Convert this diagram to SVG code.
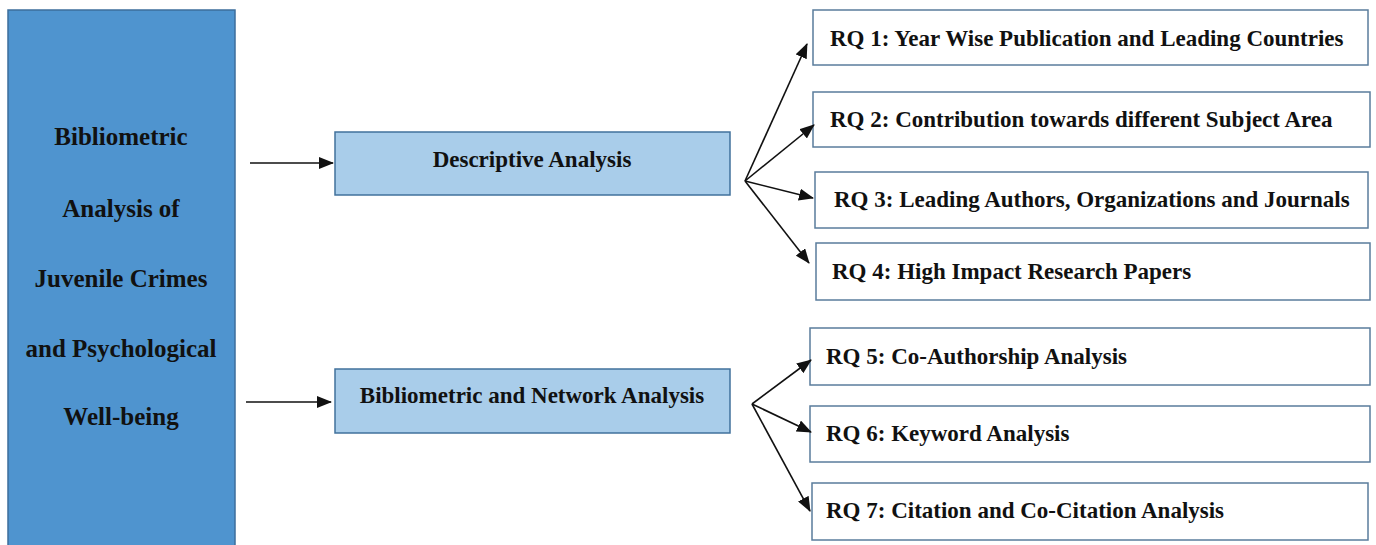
<svg xmlns="http://www.w3.org/2000/svg" width="1376" height="545" viewBox="0 0 1376 545">
<style>
text{font-family:"Liberation Serif","Times New Roman",serif;font-weight:bold;fill:#111;}
.big{font-size:25px;text-anchor:middle;}
.mid{font-size:23px;text-anchor:middle;}
.rq{font-size:23px;}
.main{fill:#4F94CF;stroke:#3D6E9C;stroke-width:1.5;}
.cat{fill:#A9CDEA;stroke:#41719C;stroke-width:1.5;}
.box{fill:#fff;stroke:#5A7C9C;stroke-width:1.5;}
.conn line{stroke:#111;stroke-width:1.6;fill:none;}
</style>
<defs>
<marker id="ah" markerUnits="userSpaceOnUse" markerWidth="15" markerHeight="12" refX="14" refY="6" orient="auto">
<path d="M0,0 L15,6 L0,12 Z" fill="#111"/>
</marker>
</defs>
<rect width="1376" height="545" fill="#fff"/>
<g id="main">
<rect class="main" x="8" y="10" width="227" height="545"/>
<text class="big" x="121" y="145">Bibliometric</text>
<text class="big" x="121" y="217">Analysis of</text>
<text class="big" x="121" y="287">Juvenile Crimes</text>
<text class="big" x="121" y="357">and Psychological</text>
<text class="big" x="121" y="425">Well-being</text>
</g>
<g id="descriptive">
<rect class="cat" x="335" y="132" width="395" height="63"/>
<text class="mid" x="532" y="167">Descriptive Analysis</text>
</g>
<g id="network">
<rect class="cat" x="335" y="369" width="395" height="64"/>
<text class="mid" x="532" y="403">Bibliometric and Network Analysis</text>
</g>
<g id="rq1"><rect class="box" x="813" y="10" width="555" height="55"/><text class="rq" x="830" y="46">RQ 1: Year Wise Publication and Leading Countries</text></g>
<g id="rq2"><rect class="box" x="813" y="92" width="557" height="55"/><text class="rq" x="830" y="127">RQ 2: Contribution towards different Subject Area</text></g>
<g id="rq3"><rect class="box" x="815" y="172" width="553" height="56"/><text class="rq" x="834" y="207">RQ 3: Leading Authors, Organizations and Journals</text></g>
<g id="rq4"><rect class="box" x="816" y="243" width="554" height="57"/><text class="rq" x="832" y="279">RQ 4: High Impact Research Papers</text></g>
<g id="rq5"><rect class="box" x="810" y="328" width="560" height="57"/><text class="rq" x="826" y="364">RQ 5: Co-Authorship Analysis</text></g>
<g id="rq6"><rect class="box" x="810" y="406" width="560" height="56"/><text class="rq" x="826" y="441">RQ 6: Keyword Analysis</text></g>
<g id="rq7"><rect class="box" x="812" y="483" width="556" height="57"/><text class="rq" x="826" y="518">RQ 7: Citation and Co-Citation Analysis</text></g>
<g id="connectors" class="conn">
<line x1="250" y1="163" x2="333" y2="163" marker-end="url(#ah)"/>
<line x1="246" y1="402" x2="331" y2="402" marker-end="url(#ah)"/>
<line x1="745" y1="181" x2="807" y2="44" marker-end="url(#ah)"/>
<line x1="745" y1="181" x2="814" y2="125" marker-end="url(#ah)"/>
<line x1="745" y1="181" x2="813" y2="198" marker-end="url(#ah)"/>
<line x1="745" y1="181" x2="809" y2="263" marker-end="url(#ah)"/>
<line x1="752" y1="404" x2="811" y2="360" marker-end="url(#ah)"/>
<line x1="752" y1="404" x2="811" y2="432" marker-end="url(#ah)"/>
<line x1="752" y1="404" x2="810" y2="511" marker-end="url(#ah)"/>
</g>
</svg>
